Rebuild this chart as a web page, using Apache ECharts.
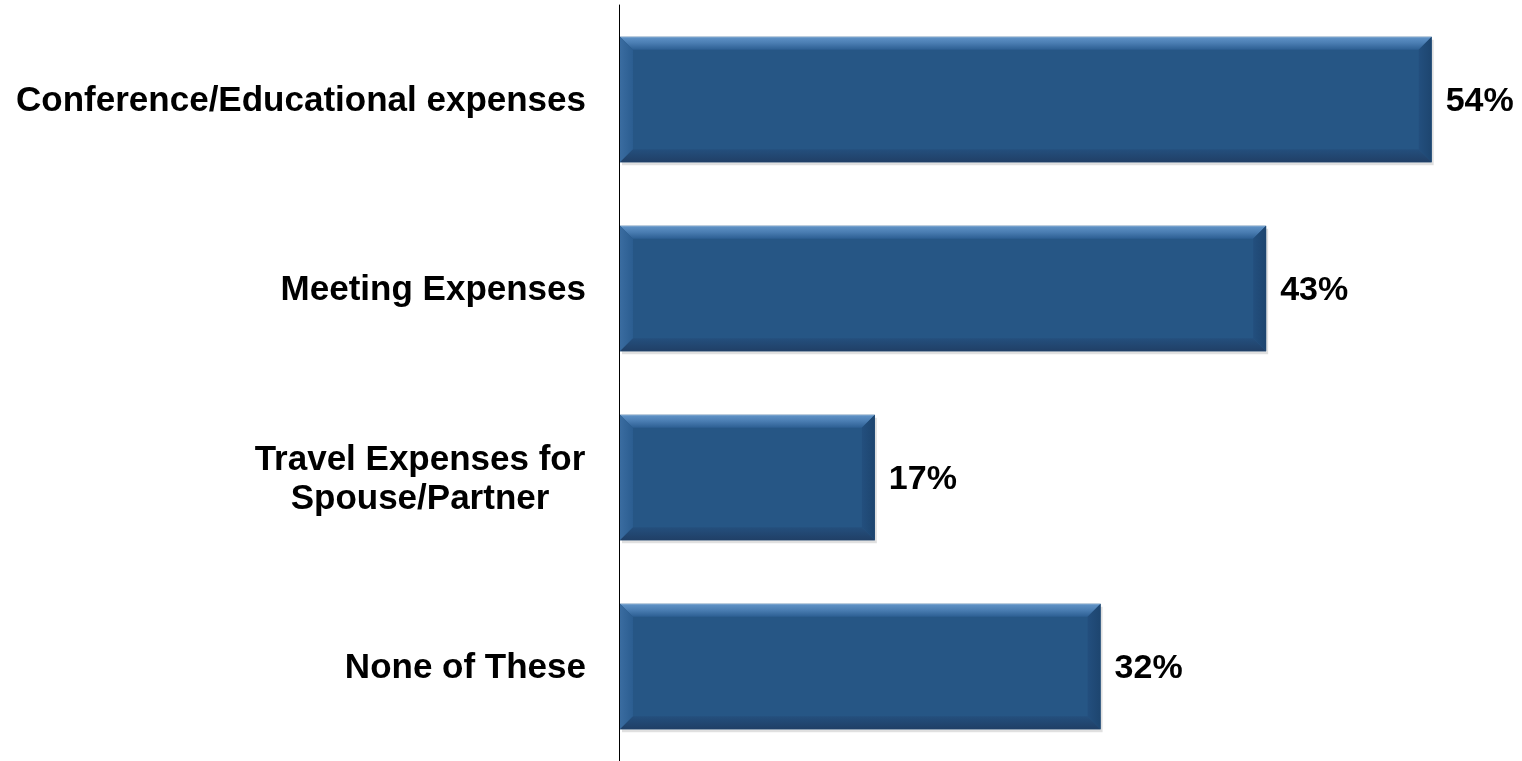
<!DOCTYPE html>
<html><head><meta charset="utf-8">
<script src="https://cdn.jsdelivr.net/npm/echarts@6/dist/echarts.min.js"></script>
<style>html,body{margin:0;padding:0;background:#fff}#c{width:1522px;height:761px}</style>
</head><body><div id="c"></div>
<script>
const categories = ["Conference/Educational expenses", "Meeting Expenses", "Travel Expenses for\nSpouse/Partner", "None of These"];
const values = [54, 43, 17, 32];

const chart = echarts.init(document.getElementById('c'), null, {renderer: 'canvas'});
const FONT = 'Liberation Sans, Arial, sans-serif';
const B = 13;

function renderItem(params, api) {
  const idx = api.value(0);
  const val = api.value(1);
  const p0 = api.coord([0, idx]);
  const p1 = api.coord([val, idx]);
  const bandH = api.size([0, 1])[1];
  const h = bandH * 0.665;
  const x0 = p0[0] + 1, x1 = p1[0];
  const y0 = p0[1] - h / 2, y1 = p0[1] + h / 2;
  const w = x1 - x0;
  return {
    type: 'group',
    children: [
      {type: 'rect', shape: {x: x0 + 2, y: y0 + 3, width: w, height: h}, style: {fill: 'rgba(0,0,0,0.12)'}, silent: true},
      {type: 'rect', shape: {x: x0, y: y0, width: w, height: h}, style: {fill: '#265685'}},
      {type: 'polygon', shape: {points: [[x0, y0], [x1, y0], [x1 - B, y0 + B], [x0 + B, y0 + B]]},
        style: {fill: new echarts.graphic.LinearGradient(0, 0, 0, 1, [
          {offset: 0, color: '#9dbbd9'}, {offset: 0.1, color: '#5d90c4'}, {offset: 0.5, color: '#4a7db2'}, {offset: 1, color: '#2d5f93'}])}},
      {type: 'polygon', shape: {points: [[x0, y0], [x0 + B, y0 + B], [x0 + B, y1 - B], [x0, y1]]},
        style: {fill: new echarts.graphic.LinearGradient(0, 0, 1, 0, [
          {offset: 0, color: '#3a6ca0'}, {offset: 1, color: '#2b5d90'}])}},
      {type: 'polygon', shape: {points: [[x1, y0], [x1, y1], [x1 - B, y1 - B], [x1 - B, y0 + B]]},
        style: {fill: new echarts.graphic.LinearGradient(0, 0, 1, 0, [
          {offset: 0, color: '#234f7e'}, {offset: 1, color: '#1d456f'}])}},
      {type: 'polygon', shape: {points: [[x0, y1], [x0 + B, y1 - B], [x1 - B, y1 - B], [x1, y1]]},
        style: {fill: new echarts.graphic.LinearGradient(0, 0, 0, 1, [
          {offset: 0, color: '#244f7d'}, {offset: 1, color: '#203f66'}])}},
      {type: 'text', x: x1 + 14, y: p0[1] + 2,
        style: {text: val + '%', fill: '#000', font: 'bold 34px ' + FONT, textAlign: 'left', textVerticalAlign: 'middle'}}
    ]
  };
}

chart.setOption({
  animation: false,
  grid: {left: 619, right: -1, top: 5, bottom: -2, containLabel: false},
  xAxis: {type: 'value', min: 0, max: 60, show: false},
  yAxis: {
    type: 'category', data: categories, inverse: true,
    axisLine: {show: true, lineStyle: {color: '#000', width: 1}},
    axisTick: {show: false},
    axisLabel: {
      margin: 33, color: '#000', fontFamily: FONT, fontWeight: 'bold', fontSize: 35, lineHeight: 39,
      padding: [4, 0, 0, 0],
      formatter: function (v) {
        if (v.indexOf('\n') >= 0) {
          return v.split('\n').map(s => '{c|' + s + '}').join('\n');
        }
        return v;
      },
      rich: {
        c: {width: 332, align: 'center', fontFamily: FONT, fontWeight: 'bold', fontSize: 35, color: '#000', lineHeight: 39}
      }
    }
  },
  series: [{
    type: 'custom',
    renderItem: renderItem,
    encode: {x: 1, y: 0},
    data: values.map((v, i) => [i, v])
  }]
});
</script></body></html>
